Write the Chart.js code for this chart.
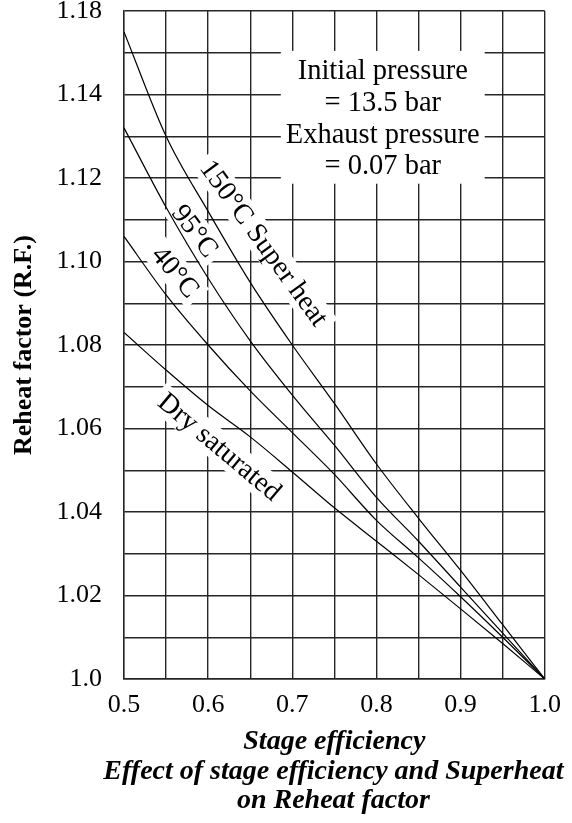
<!DOCTYPE html>
<html><head><meta charset="utf-8">
<script src="https://cdn.jsdelivr.net/npm/chart.js@4/dist/chart.umd.min.js"></script>
<style>html,body{margin:0;padding:0;background:#fff;}</style>
</head><body>
<canvas id="c" width="572" height="823"></canvas>
<script>
// ---- data ----
const stageEfficiency = [0.5, 0.55, 0.6, 0.65, 0.7, 0.75, 0.8, 0.85, 0.9, 0.95, 1.0];
const superheat150 = [1.155, 1.130, 1.112, 1.095, 1.080, 1.066, 1.0515, 1.0385, 1.026, 1.013, 1.000];
const superheat95  = [1.132, 1.113, 1.096, 1.081, 1.068, 1.056, 1.0435, 1.033, 1.022, 1.011, 1.000];
const superheat40  = [1.106, 1.092, 1.080, 1.069, 1.059, 1.049, 1.038, 1.029, 1.0197, 1.010, 1.000];
const drySaturated = [1.083, 1.074, 1.0655, 1.058, 1.0496, 1.041, 1.033, 1.025, 1.0168, 1.0085, 1.000];
const seriesNames = ['150°C Super heat', '95°C', '40°C', 'Dry saturated'];

const yTickValues = [1.00, 1.02, 1.04, 1.06, 1.08, 1.10, 1.12, 1.14, 1.16];
const yTickText   = ['1.0', '1.02', '1.04', '1.06', '1.08', '1.10', '1.12', '1.14', '1.18'];
const xTickValues = [0.5, 0.6, 0.7, 0.8, 0.9, 1.0];
const xTickText   = ['0.5', '0.6', '0.7', '0.8', '0.9', '1.0'];

const yAxisTitle = 'Reheat factor (R.F.)';
const xAxisTitle = 'Stage efficiency';
const captionLines = ['Effect of stage efficiency and Superheat', 'on Reheat factor'];
const noteLines = ['Initial pressure', '= 13.5 bar', 'Exhaust pressure', '= 0.07 bar'];

// ---- label placement (data coordinates) ----
const curveLabelPlaces = [
  { x: 0.6663, y: 1.1044, angle: 54 },
  { x: 0.5843, y: 1.1073, angle: 53 },
  { x: 0.5609, y: 1.0975, angle: 50 },
  { x: 0.6136, y: 1.0556, angle: 40 }
];
const notePlace = { x: 0.8075, y: 1.1343 };

const FONT = '"Liberation Serif", "Times New Roman", serif';
Chart.defaults.font.family = FONT;
Chart.defaults.color = '#000';

function pts(vals) { return stageEfficiency.map((x, i) => ({ x: x, y: vals[i] })); }
function lookup(values, texts, v) {
  const i = values.findIndex(t => Math.abs(t - v) < 1e-6);
  return i >= 0 ? texts[i] : '';
}

const LABEL_FONT = '28px ' + FONT;
const NOTE_FONT = '28.5px ' + FONT;
const NOTE_LH = 31.7;
const CAPTION_FONT = 'italic bold 28px ' + FONT;
const CAPTION_LH = 29;

const labelPlugin = {
  id: 'curveLabels',
  beforeDatasetsDraw(chart) {
    const { ctx, scales: { x, y } } = chart;
    ctx.save();
    ctx.fillStyle = '#fff';
    ctx.font = LABEL_FONT;
    curveLabelPlaces.forEach((p, i) => {
      const w = ctx.measureText(seriesNames[i]).width;
      ctx.save();
      ctx.translate(x.getPixelForValue(p.x), y.getPixelForValue(p.y));
      ctx.rotate(p.angle * Math.PI / 180);
      ctx.fillRect(-w / 2 - 6, -15, w + 12, 30);
      ctx.restore();
    });
    ctx.font = NOTE_FONT;
    const nw = Math.max(...noteLines.map(t => ctx.measureText(t).width));
    const cx = x.getPixelForValue(notePlace.x), cy = y.getPixelForValue(notePlace.y);
    const h = NOTE_LH * noteLines.length;
    ctx.fillRect(cx - nw / 2 - 5, cy - h / 2 - 4, nw + 10, h + 6);
    ctx.restore();
  },
  afterDatasetsDraw(chart) {
    const { ctx, scales: { x, y } } = chart;
    ctx.save();
    ctx.fillStyle = '#000';
    ctx.textAlign = 'center';
    ctx.textBaseline = 'middle';
    ctx.font = LABEL_FONT;
    curveLabelPlaces.forEach((p, i) => {
      ctx.save();
      ctx.translate(x.getPixelForValue(p.x), y.getPixelForValue(p.y));
      ctx.rotate(p.angle * Math.PI / 180);
      ctx.fillText(seriesNames[i], 0, 1);
      ctx.restore();
    });
    ctx.font = NOTE_FONT;
    const cx = x.getPixelForValue(notePlace.x), cy = y.getPixelForValue(notePlace.y);
    const h = NOTE_LH * noteLines.length;
    noteLines.forEach((t, i) => {
      ctx.fillText(t, cx, cy - h / 2 + NOTE_LH * (i + 0.5) + 1);
    });
    ctx.restore();
  },
  afterDraw(chart) {
    const { ctx, chartArea } = chart;
    ctx.save();
    ctx.fillStyle = '#000';
    ctx.textAlign = 'center';
    ctx.textBaseline = 'middle';
    ctx.font = CAPTION_FONT;
    const cx = (chartArea.left + chartArea.right) / 2 - 1;
    captionLines.forEach((t, i) => {
      ctx.fillText(t, cx, chartArea.bottom + 93 + CAPTION_LH * i);
    });
    ctx.restore();
  }
};

const lineStyle = { borderColor: '#000', borderWidth: 1.2, pointRadius: 0, fill: false, cubicInterpolationMode: 'monotone' };
const gridStyle = { color: '#262626', lineWidth: 1.4, drawTicks: false };

new Chart(document.getElementById('c'), {
  type: 'line',
  data: {
    datasets: [
      Object.assign({ label: seriesNames[0], data: pts(superheat150) }, lineStyle),
      Object.assign({ label: seriesNames[1], data: pts(superheat95) }, lineStyle),
      Object.assign({ label: seriesNames[2], data: pts(superheat40) }, lineStyle),
      Object.assign({ label: seriesNames[3], data: pts(drySaturated) }, lineStyle)
    ]
  },
  options: {
    responsive: false,
    animation: false,
    layout: { padding: { top: 11, right: 21, bottom: 0, left: 0 } },
    plugins: { legend: { display: false }, tooltip: { enabled: false } },
    scales: {
      x: {
        type: 'linear', min: 0.5, max: 1.0,
        grid: gridStyle,
        border: { color: '#262626', width: 1.4 },
        ticks: {
          stepSize: 0.05, autoSkip: false, maxRotation: 0, padding: 11,
          font: { size: 26 }, color: '#000',
          callback: v => lookup(xTickValues, xTickText, v)
        },
        title: {
          display: true, text: xAxisTitle, color: '#000',
          font: { size: 28, weight: 'bold', style: 'italic', lineHeight: '29px' },
          padding: { top: 0, bottom: 66.5 }
        },
        afterFit(s) { s.height = 823 - 679; }
      },
      y: {
        type: 'linear', min: 1.0, max: 1.16,
        grid: gridStyle,
        border: { color: '#262626', width: 1.4 },
        ticks: {
          stepSize: 0.01, autoSkip: false, padding: 22,
          font: { size: 26 }, color: '#000',
          callback: v => lookup(yTickValues, yTickText, v)
        },
        title: {
          display: true, text: yAxisTitle, color: '#000',
          font: { size: 26, weight: 'bold' },
          padding: { top: 9, bottom: 0 }
        },
        afterFit(s) { s.width = 124; s.paddingTop = 0; s.paddingBottom = 0; }
      }
    }
  },
  plugins: [labelPlugin]
});
</script>
</body></html>
